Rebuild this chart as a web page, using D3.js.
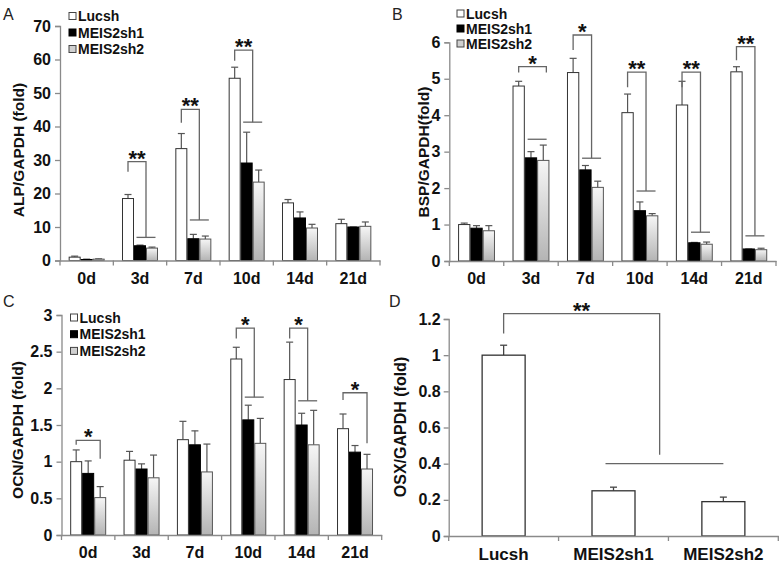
<!DOCTYPE html>
<html><head><meta charset="utf-8">
<script src="https://cdn.jsdelivr.net/npm/d3@7"></script>
<style>
body{margin:0;background:#fff;}
svg text{font-family:"Liberation Sans",Arial,sans-serif;}
</style></head>
<body><svg id="c" width="781" height="564"></svg>
<script>
// ---------- DATA ----------
const days = ['0d','3d','7d','10d','14d','21d'];
const groups = ['Lucsh','MEIS2sh1','MEIS2sh2'];

// Panel A: ALP/GAPDH
const alpLucsh = [1.0, 18.5, 33.4, 54.4, 17.2, 11.0];
const alpLucshErr = [0.3, 1.2, 4.5, 3.3, 1.0, 1.3];
const alpSh1 = [0.3, 4.4, 6.5, 29.1, 12.7, 10.0];
const alpSh1Err = [0.1, 0.2, 1.3, 9.2, 1.8, 0.0];
const alpSh2 = [0.4, 3.7, 6.4, 23.4, 9.7, 10.2];
const alpSh2Err = [0.1, 0.3, 0.9, 3.6, 1.1, 1.3];
const alpTicks = [0,10,20,30,40,50,60,70];
const alpSig = [
  {day:'3d', top:29.5, leftEnd:26.5, right:1.5, rightEnd:6.9, line:6.9, label:'**'},
  {day:'7d', top:45.1, leftEnd:41.1, right:1.5, rightEnd:12.1, line:12.1, label:'**'},
  {day:'10d', top:62.8, leftEnd:59.6, right:1.5, rightEnd:41.3, line:41.3, label:'**'}
];

// Panel B: BSP/GAPDH
const bspLucsh = [1.0, 4.8, 5.17, 4.07, 4.28, 5.19];
const bspLucshErr = [0.04, 0.13, 0.39, 0.51, 0.65, 0.14];
const bspSh1 = [0.9, 2.83, 2.5, 1.38, 0.5, 0.33];
const bspSh1Err = [0.07, 0.17, 0.12, 0.24, 0.01, 0.0];
const bspSh2 = [0.83, 2.76, 2.02, 1.24, 0.46, 0.31];
const bspSh2Err = [0.14, 0.42, 0.17, 0.06, 0.06, 0.04];
const bspTicks = [0,1,2,3,4,5,6];
const bspSig = [
  {day:'3d', top:5.33, leftEnd:5.17, right:2.25, rightEnd:5.17, line:3.34, label:'*'},
  {day:'7d', top:6.2, leftEnd:5.79, right:1.5, rightEnd:2.82, line:2.82, label:'*'},
  {day:'10d', top:5.18, leftEnd:4.77, right:1.5, rightEnd:1.92, line:1.92, label:'**'},
  {day:'14d', top:5.18, leftEnd:4.77, right:1.5, rightEnd:0.79, line:0.79, label:'**'},
  {day:'21d', top:5.88, leftEnd:5.51, right:1.5, rightEnd:0.69, line:0.69, label:'**'}
];

// Panel C: OCN/GAPDH
const ocnLucsh = [1.0, 1.02, 1.3, 2.4, 2.12, 1.45];
const ocnLucshErr = [0.16, 0.12, 0.25, 0.16, 0.51, 0.2];
const ocnSh1 = [0.84, 0.9, 1.23, 1.57, 1.5, 1.13];
const ocnSh1Err = [0.17, 0.07, 0.19, 0.2, 0.16, 0.09];
const ocnSh2 = [0.51, 0.78, 0.86, 1.25, 1.23, 0.9];
const ocnSh2Err = [0.15, 0.31, 0.38, 0.34, 0.47, 0.2];
const ocnTicks = [0,0.5,1,1.5,2,2.5,3];
const ocnTickLabels = ['0','0.5','1','1.5','2','2.5','3'];
const ocnSig = [
  {day:'0d', top:1.29, leftEnd:1.23, right:2, rightEnd:1.04, line:null, label:'*'},
  {day:'10d', top:2.82, leftEnd:2.68, right:1.5, rightEnd:1.88, line:1.88, label:'*'},
  {day:'14d', top:2.82, leftEnd:2.68, right:1.5, rightEnd:1.83, line:1.83, label:'*'},
  {day:'21d', top:1.94, leftEnd:1.84, right:2, rightEnd:1.25, line:null, label:'*'}
];

// Panel D: OSX/GAPDH
const osxValues = [1.0, 0.25, 0.19];
const osxErr = [0.055, 0.02, 0.025];
const osxTicks = [0,0.2,0.4,0.6,0.8,1,1.2];
const osxTickLabels = ['0','0.2','0.4','0.6','0.8','1','1.2'];
const osxSig = {top:1.23, leftEnd:1.12, rightEnd:0.45, line:0.40, label:'**'};

// ---------- DRAW ----------
const svg = d3.select('#c');
const defs = svg.append('defs');
const gr = defs.append('linearGradient').attr('id','gg').attr('x1',0).attr('y1',0).attr('x2',0).attr('y2',1);
gr.append('stop').attr('offset','0%').attr('stop-color','#f6f6f6');
gr.append('stop').attr('offset','100%').attr('stop-color','#b4b4b4');

const fills = ['#ffffff','#000000','url(#gg)'];
const strokes = ['#333','#000','#555'];
const axisColor = '#8a8a8a';

function drawPanel(cfg){
  const g = svg.append('g');
  const x = d3.scaleBand().domain(days).range(cfg.xr).padding(0);
  const bw = cfg.bw;
  const xi = d3.scaleBand().domain(groups).range([-1.5*bw, 1.5*bw]);
  const y = d3.scaleLinear().domain(cfg.yd).range(cfg.yr);
  const series = [cfg.s0, cfg.s1, cfg.s2];
  const errs = [cfg.e0, cfg.e1, cfg.e2];
  const cx = (d,k) => x(d) + x.bandwidth()/2 + xi(groups[k]) + bw/2;

  // bars
  series.forEach((s,k)=>{
    const gg = g.append('g');
    // error bars first (behind)
    gg.selectAll('line.e').data(days).join('line')
      .attr('x1',(d)=>cx(d,k)).attr('x2',(d)=>cx(d,k))
      .attr('y1',(d,i)=>y(s[i])).attr('y2',(d,i)=>y(s[i]+errs[k][i]))
      .attr('stroke','#555').attr('stroke-width',1.2);
    gg.selectAll('line.c').data(days).join('line')
      .attr('x1',(d)=>cx(d,k)-3.5).attr('x2',(d)=>cx(d,k)+3.5)
      .attr('y1',(d,i)=>y(s[i]+errs[k][i])).attr('y2',(d,i)=>y(s[i]+errs[k][i]))
      .attr('stroke','#555').attr('stroke-width',1.2);
    gg.selectAll('rect').data(days).join('rect')
      .attr('x',(d)=>x(d)+x.bandwidth()/2+xi(groups[k])+0.5)
      .attr('width',bw-1)
      .attr('y',(d,i)=>y(s[i]))
      .attr('height',(d,i)=>y(0)-y(s[i]))
      .attr('fill',fills[k]).attr('stroke',strokes[k]).attr('stroke-width',1);
  });

  // y axis
  const ya = g.append('g').attr('transform',`translate(${cfg.xr[0]},0)`)
    .call(d3.axisLeft(y).tickValues(cfg.ticks).tickFormat((d,i)=>cfg.tickLabels ? cfg.tickLabels[i] : d).tickSize(5).tickPadding(4));
  ya.select('.domain').attr('stroke',axisColor).attr('stroke-width',1.3);
  ya.selectAll('.tick line').attr('stroke',axisColor).attr('stroke-width',1.3);
  ya.selectAll('text').attr('font-size',16).attr('font-weight','bold').attr('fill','#111')
    .attr('font-family','"Liberation Sans",Arial,sans-serif');

  // x axis
  const xa = g.append('g').attr('transform',`translate(0,${y(0)})`)
    .call(d3.axisBottom(x).tickSize(0).tickPadding(12));
  xa.select('.domain').attr('stroke',axisColor).attr('stroke-width',1.3);
  xa.selectAll('text').attr('font-size',16).attr('font-weight','bold').attr('fill','#111')
    .attr('font-family','"Liberation Sans",Arial,sans-serif');
  const bounds = days.map(d=>x(d)).concat([cfg.xr[1]]);
  xa.selectAll('line.bt').data(bounds).join('line').attr('class','bt')
    .attr('x1',d=>d).attr('x2',d=>d).attr('y1',0).attr('y2',5)
    .attr('stroke',axisColor).attr('stroke-width',1.3);

  // significance brackets
  cfg.sig.forEach(b=>{
    const xl = cx(b.day,0);
    const xr = x(b.day)+x.bandwidth()/2 + xi(groups[0]) + bw/2 + b.right*bw;
    const p = d3.path();
    p.moveTo(xl, y(b.leftEnd)); p.lineTo(xl, y(b.top)); p.lineTo(xr, y(b.top)); p.lineTo(xr, y(b.rightEnd));
    g.append('path').attr('d',p.toString()).attr('fill','none').attr('stroke','#666').attr('stroke-width',1.3);
    if (b.line !== null){
      const mid = cx(b.day,1) + bw/2;
      g.append('line').attr('x1',mid-9.5).attr('x2',mid+9.5)
        .attr('y1',y(b.line)).attr('y2',y(b.line)).attr('stroke','#666').attr('stroke-width',1.3);
    }
    g.append('text').attr('x',(xl+xr)/2).attr('y',y(b.top)-8+12)
      .attr('text-anchor','middle').attr('font-size',22).attr('font-weight','bold')
      .attr('fill','#111').text(b.label);
  });

  // legend
  const lg = g.append('g');
  groups.forEach((n,k)=>{
    const yy = cfg.leg[1] + k*cfg.leg[2];
    lg.append('rect').attr('x',cfg.leg[0]).attr('y',yy-3.5).attr('width',7).attr('height',7)
      .attr('fill',k===2?'#d0d0d0':fills[k]).attr('stroke',k===1?'#000':'#444').attr('stroke-width',1);
    lg.append('text').attr('x',cfg.leg[0]+9).attr('y',yy+5).attr('font-size',14).attr('font-weight','bold')
      .attr('fill','#111').text(n);
  });

  // y title
  svg.append('text').attr('transform',`translate(${cfg.title[0]},${cfg.title[1]}) rotate(-90)`)
    .attr('text-anchor','middle').attr('dominant-baseline','central')
    .attr('font-size',15.5).attr('font-weight','bold').attr('fill','#111').text(cfg.titleText);
  // panel letter
  svg.append('text').attr('x',cfg.letter[0]).attr('y',cfg.letter[1]).attr('font-size',16)
    .attr('fill','#222').text(cfg.letterText);
}

drawPanel({xr:[60,380], yd:[0,70], yr:[260.5,26], bw:12,
  s0:alpLucsh,s1:alpSh1,s2:alpSh2,e0:alpLucshErr,e1:alpSh1Err,e2:alpSh2Err,
  ticks:alpTicks, sig:alpSig, leg:[69,16,16.5], title:[18,150], titleText:'ALP/GAPDH (fold)',
  letter:[3,20], letterText:'A'});
drawPanel({xr:[449.3,776], yd:[0,6], yr:[261,42.3], bw:12.3,
  s0:bspLucsh,s1:bspSh1,s2:bspSh2,e0:bspLucshErr,e1:bspSh1Err,e2:bspSh2Err,
  ticks:bspTicks, sig:bspSig, leg:[457,13.5,15], title:[423,152], titleText:'BSP/GAPDH(fold)',
  letter:[392,20], letterText:'B'});
drawPanel({xr:[61.5,381.7], yd:[0,3], yr:[535,315], bw:12,
  s0:ocnLucsh,s1:ocnSh1,s2:ocnSh2,e0:ocnLucshErr,e1:ocnSh1Err,e2:ocnSh2Err,
  ticks:ocnTicks, tickLabels:ocnTickLabels, sig:ocnSig, leg:[70.5,317.5,16.7], title:[17,430], titleText:'OCN/GAPDH (fold)',
  letter:[3,307], letterText:'C'});

// Panel D
(function(){
  const g = svg.append('g');
  const dFont = 'Lato,"Open Sans",sans-serif';
  const x = d3.scaleBand().domain(groups).range([448.7,778.3]).paddingInner(0).paddingOuter(0);
  const y = d3.scaleLinear().domain([0,1.2]).range([536,319]);
  const bw = 43;
  const cx = (d)=>x(d)+x.bandwidth()/2;
  g.selectAll('line.e').data(groups).join('line')
    .attr('x1',d=>cx(d)).attr('x2',d=>cx(d))
    .attr('y1',(d,i)=>y(osxValues[i])).attr('y2',(d,i)=>y(osxValues[i]+osxErr[i]))
    .attr('stroke','#444').attr('stroke-width',1.3);
  g.selectAll('line.c').data(groups).join('line')
    .attr('x1',d=>cx(d)-3.5).attr('x2',d=>cx(d)+3.5)
    .attr('y1',(d,i)=>y(osxValues[i]+osxErr[i])).attr('y2',(d,i)=>y(osxValues[i]+osxErr[i]))
    .attr('stroke','#444').attr('stroke-width',1.3);
  g.selectAll('rect').data(groups).join('rect')
    .attr('x',d=>cx(d)-bw/2).attr('width',bw)
    .attr('y',(d,i)=>y(osxValues[i])).attr('height',(d,i)=>y(0)-y(osxValues[i]))
    .attr('fill','#fff').attr('stroke','#333').attr('stroke-width',1.3);

  const ya = g.append('g').attr('transform','translate(448.7,0)')
    .call(d3.axisLeft(y).tickValues(osxTicks).tickFormat((d,i)=>osxTickLabels[i]).tickSize(5).tickPadding(3));
  ya.select('.domain').attr('stroke',axisColor).attr('stroke-width',1.3);
  ya.selectAll('.tick line').attr('stroke',axisColor).attr('stroke-width',1.3);
  ya.selectAll('text').attr('font-size',16).attr('font-weight','bold').attr('fill','#111').attr('font-family',dFont);

  const xa = g.append('g').attr('transform',`translate(0,${y(0)})`)
    .call(d3.axisBottom(x).tickSize(0).tickPadding(12));
  xa.select('.domain').attr('stroke',axisColor).attr('stroke-width',1.3);
  xa.selectAll('text').attr('font-size',17).attr('font-weight','bold').attr('fill','#111').attr('font-family',dFont);
  const bounds = groups.map(d=>x(d)).concat([778.3]);
  xa.selectAll('line.bt').data(bounds).join('line').attr('class','bt')
    .attr('x1',d=>d).attr('x2',d=>d).attr('y1',0).attr('y2',5)
    .attr('stroke',axisColor).attr('stroke-width',1.3);

  const xl = cx(groups[0]);
  const xr = cx(groups[1]) + 0.42*(cx(groups[2])-cx(groups[1]));
  const p = d3.path();
  p.moveTo(xl,y(osxSig.leftEnd)); p.lineTo(xl,y(osxSig.top)); p.lineTo(xr,y(osxSig.top)); p.lineTo(xr,y(osxSig.rightEnd));
  g.append('path').attr('d',p.toString()).attr('fill','none').attr('stroke','#666').attr('stroke-width',1.3);
  g.append('line').attr('x1',cx(groups[1])-8).attr('x2',cx(groups[2]))
    .attr('y1',y(osxSig.line)).attr('y2',y(osxSig.line)).attr('stroke','#666').attr('stroke-width',1.3);
  g.append('text').attr('x',(xl+xr)/2).attr('y',y(osxSig.top)-8+12).attr('text-anchor','middle')
    .attr('font-size',22).attr('font-weight','bold').attr('fill','#111').text(osxSig.label);

  svg.append('text').attr('transform','translate(400,427) rotate(-90)')
    .attr('text-anchor','middle').attr('dominant-baseline','central')
    .attr('font-size',16).attr('font-weight','bold').attr('fill','#111').attr('font-family',dFont)
    .text('OSX/GAPDH (fold)');
  svg.append('text').attr('x',389).attr('y',307).attr('font-size',16).attr('fill','#222').text('D');
})();
</script></body></html>
